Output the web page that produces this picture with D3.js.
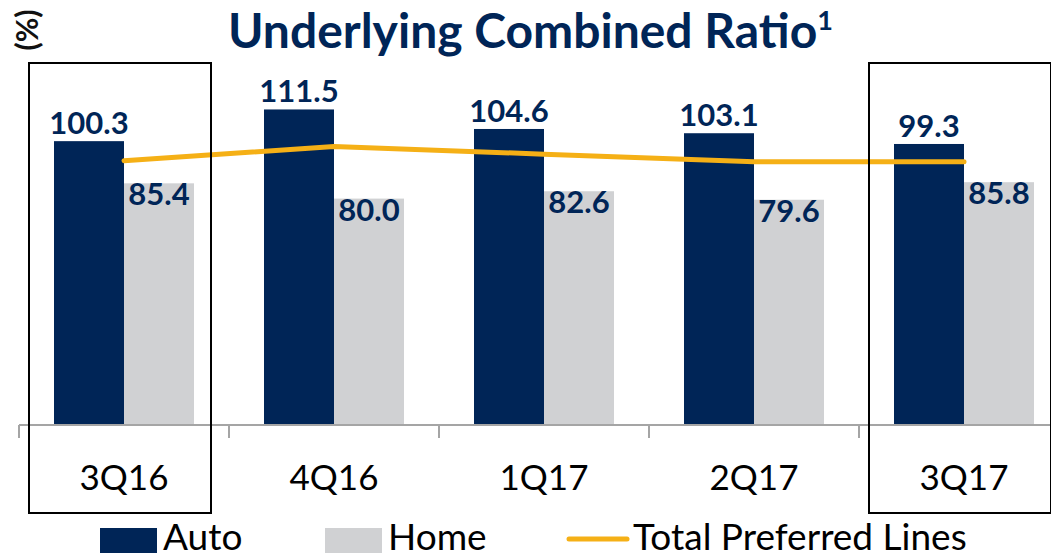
<!DOCTYPE html>
<html lang="en">
<head>
  <meta charset="utf-8"/>
  <title>Underlying Combined Ratio</title>
  <script src="https://cdn.jsdelivr.net/npm/d3@7/dist/d3.min.js"></script>
  <style>
    html, body { margin:0; padding:0; background:#fff; overflow:hidden; }
    svg { display:block; font-family:Lato, "Open Sans", sans-serif; }
  </style>
</head>
<body>
  <svg width="1051" height="553"></svg>
  <script>
  // data
  const quarters  = ["3Q16", "4Q16", "1Q17", "2Q17", "3Q17"];
  const autoVals  = [100.3, 111.5, 104.6, 103.1, 99.3];
  const homeVals  = [85.4, 80.0, 82.6, 79.6, 85.8];
  const totalVals = [93.4, 98.4, 95.7, 93.0, 93.0];
  const boxed     = ["3Q16", "3Q17"];

  const NAVY = "#002557", GREY = "#d0d1d3", GOLD = "#f5b016";

  const svg = d3.select("svg");

  // scales
  const x  = d3.scaleBand().domain(quarters).range([19, 1069]);
  const xs = d3.scaleBand().domain(["auto", "home"]).range([0, x.bandwidth()]).paddingOuter(0.5);
  const y  = d3.scaleLinear().domain([0, 150]).range([425, 0.5]);

  const rows = quarters.map((q, i) => ({ q, auto: autoVals[i], home: homeVals[i], total: totalVals[i] }));

  // bars
  const g = svg.append("g");
  g.selectAll("rect.auto").data(rows).join("rect")
    .attr("x", d => x(d.q) + xs("auto"))
    .attr("y", d => y(d.auto))
    .attr("width", xs.bandwidth())
    .attr("height", d => y(0) - y(d.auto))
    .attr("fill", NAVY);
  g.selectAll("rect.home").data(rows).join("rect")
    .attr("x", d => x(d.q) + xs("home"))
    .attr("y", d => y(d.home))
    .attr("width", xs.bandwidth())
    .attr("height", d => y(0) - y(d.home))
    .attr("fill", GREY);

  // value labels
  g.selectAll("text.al").data(rows).join("text")
    .attr("x", d => x(d.q) + xs("auto") + xs.bandwidth() / 2)
    .attr("y", d => y(d.auto) - 7)
    .attr("text-anchor", "middle")
    .attr("font-size", 31).attr("font-weight", 700).attr("fill", NAVY)
    .text(d => d.auto.toFixed(1));
  g.selectAll("text.hl").data(rows).join("text")
    .attr("x", d => x(d.q) + xs("home") + xs.bandwidth() / 2)
    .attr("y", d => y(d.home) + 22)
    .attr("text-anchor", "middle")
    .attr("font-size", 31).attr("font-weight", 700).attr("fill", NAVY)
    .text(d => d.home.toFixed(1));

  // total preferred lines
  const line = d3.line()
    .x(d => x(d.q) + x.bandwidth() / 2)
    .y(d => y(d.total));
  svg.append("path").datum(rows)
    .attr("d", line)
    .attr("fill", "none")
    .attr("stroke", GOLD)
    .attr("stroke-width", 5)
    .attr("stroke-linecap", "round")
    .attr("stroke-linejoin", "round");

  // category axis
  svg.append("line")
    .attr("x1", 19).attr("x2", 1051)
    .attr("y1", y(0)).attr("y2", y(0))
    .attr("stroke", "#a5a5a5").attr("stroke-width", 2);
  svg.selectAll("line.tick").data(quarters).join("line")
    .attr("x1", d => x(d)).attr("x2", d => x(d))
    .attr("y1", y(0)).attr("y2", y(0) + 13)
    .attr("stroke", "#a5a5a5").attr("stroke-width", 2);
  svg.selectAll("text.cat").data(quarters).join("text")
    .attr("x", d => x(d) + x.bandwidth() / 2)
    .attr("y", 490)
    .attr("text-anchor", "middle")
    .attr("font-size", 35).attr("fill", "#000")
    .text(d => d);

  // highlight boxes
  svg.selectAll("rect.box").data(boxed).join("rect")
    .attr("x", d => x(d) + 10)
    .attr("y", 63)
    .attr("width", x.bandwidth() - 28)
    .attr("height", 450)
    .attr("fill", "none")
    .attr("stroke", "#000")
    .attr("stroke-width", 2);

  // title
  const title = svg.append("text")
    .attr("x", 228).attr("y", 48)
    .attr("font-size", 48).attr("font-weight", 700).attr("fill", NAVY)
    .text("Underlying Combined Ratio");
  title.append("tspan").attr("dy", -18).attr("font-size", 27).text("1");

  svg.append("text")
    .attr("transform", "translate(38,30) rotate(-90)")
    .attr("text-anchor", "middle")
    .attr("font-size", 30).attr("font-weight", 700).attr("fill", "#111")
    .text("(%)");

  // legend
  const leg = svg.append("g");
  leg.append("rect").attr("x", 100).attr("y", 528).attr("width", 57).attr("height", 30).attr("fill", NAVY);
  leg.append("text").attr("x", 163).attr("y", 550).attr("font-size", 37).text("Auto");
  leg.append("rect").attr("x", 325).attr("y", 528).attr("width", 57).attr("height", 30).attr("fill", GREY);
  leg.append("text").attr("x", 388).attr("y", 550).attr("font-size", 37).text("Home");
  leg.append("line").attr("x1", 569).attr("x2", 627).attr("y1", 539).attr("y2", 539)
    .attr("stroke", GOLD).attr("stroke-width", 5).attr("stroke-linecap", "round");
  leg.append("text").attr("x", 633).attr("y", 550).attr("font-size", 37).text("Total Preferred Lines");
  </script>
</body>
</html>
